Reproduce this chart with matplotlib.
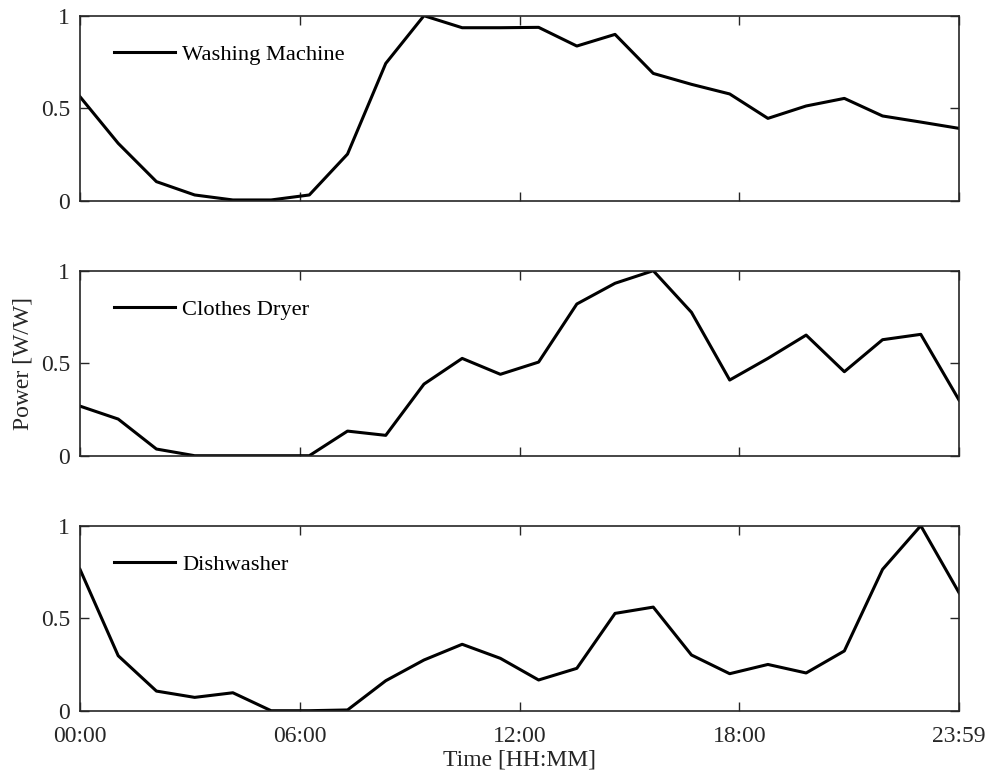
import matplotlib
matplotlib.use("Agg")
import matplotlib.pyplot as plt
import numpy as np

hours = list(range(24))
washing_machine = [0.562, 0.31, 0.103, 0.031, 0.004, 0.004, 0.031, 0.252, 0.742, 1.0,
                   0.935, 0.935, 0.937, 0.836, 0.899, 0.688, 0.629, 0.577, 0.445, 0.512,
                   0.553, 0.458, 0.425, 0.391]
clothes_dryer = [0.268, 0.198, 0.036, 0.0, 0.0, 0.0, 0.0, 0.133, 0.11, 0.387,
                 0.526, 0.44, 0.506, 0.82, 0.932, 1.0, 0.775, 0.409, 0.526, 0.652,
                 0.454, 0.627, 0.656, 0.301]
dishwasher = [0.764, 0.297, 0.106, 0.072, 0.097, 0.0, 0.0, 0.004, 0.162, 0.274,
              0.359, 0.283, 0.166, 0.229, 0.526, 0.56, 0.301, 0.2, 0.25, 0.204,
              0.323, 0.764, 1.0, 0.638]
series = [("Washing Machine", washing_machine),
          ("Clothes Dryer", clothes_dryer),
          ("Dishwasher", dishwasher)]
xtick_pos = [0, 5.75, 11.5, 17.25, 23]
xtick_labels = ["00:00", "06:00", "12:00", "18:00", "23:59"]
ytick_pos = [0, 0.5, 1]
ytick_labels = ["0", "0.5", "1"]

plt.rcParams['font.family'] = ['Liberation Serif', 'DejaVu Serif']
plt.rcParams['mathtext.fontset'] = 'stix'
FS = 17
spine_col = '#262626'

fig = plt.figure(figsize=(9.89, 7.76), dpi=100)
W, H = 989, 776
left, right = 80, 959
tops = [15.7, 270.7, 525.7]
h = 185
axes = []
for i, (name, vals) in enumerate(series):
    ax = fig.add_axes([left / W, (H - tops[i] - h) / H, (right - left) / W, h / H])
    ax.plot(hours, vals, color='black', lw=2.2, label=name)
    ax.set_xlim(0, 23)
    ax.set_ylim(0, 1)
    ax.set_xticks(xtick_pos)
    ax.set_yticks(ytick_pos)
    ax.set_yticklabels(ytick_labels)
    if i == 2:
        ax.set_xticklabels(xtick_labels)
    else:
        ax.set_xticklabels([])
    ax.tick_params(direction='in', length=6.5, width=1.0, color=spine_col,
                   top=True, right=True, labelsize=FS, labelcolor='#262626')
    ax.tick_params(axis='x', pad=11)
    ax.tick_params(axis='y', pad=7)
    for s in ax.spines.values():
        s.set_color(spine_col)
        s.set_linewidth(1.2)
    leg = ax.legend(loc='upper left', frameon=False, fontsize=16.2, handlelength=2.75,
                    handletextpad=0.3, borderaxespad=0.0,
                    bbox_to_anchor=(0.028, 0.895))
    for t in leg.get_texts():
        t.set_color('#000000')
    axes.append(ax)

axes[2].set_xlabel("Time [HH:MM]", fontsize=FS, color='#262626', labelpad=2)
fig.text(23 / W, 1 - 363 / H, "Power [W/W]", rotation=90, fontsize=FS,
         color='#262626', ha='center', va='center')

fig.savefig("out.png", dpi=100)
